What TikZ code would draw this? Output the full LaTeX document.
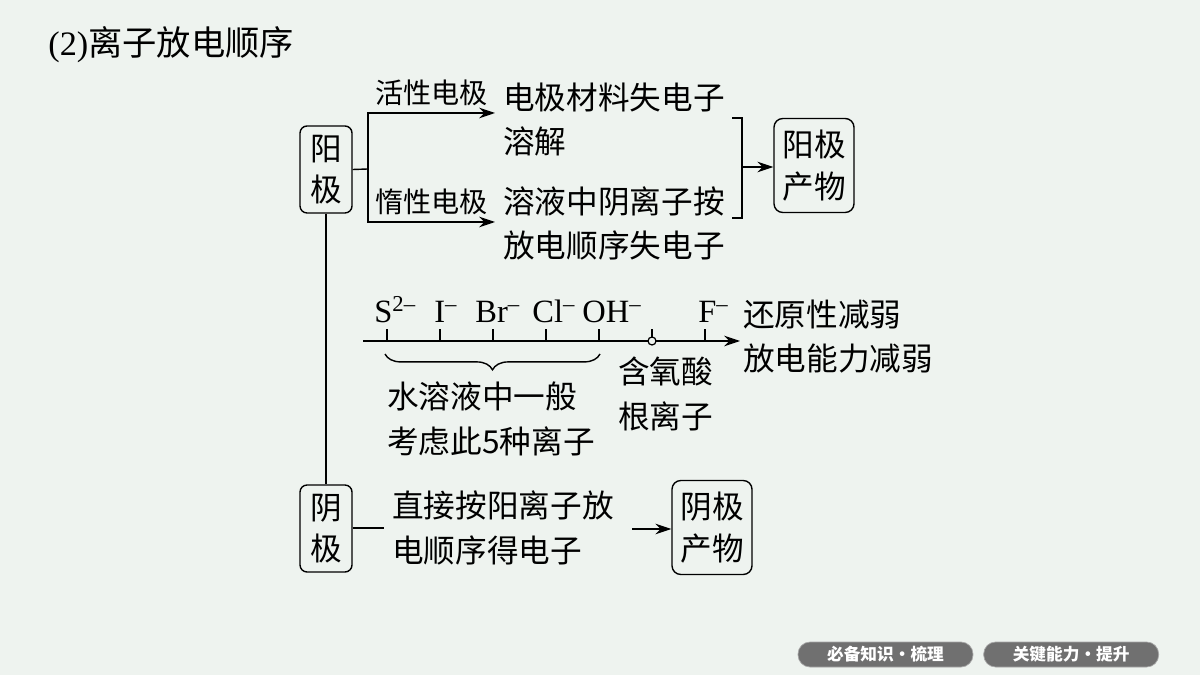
\documentclass[tikz,border=0pt]{standalone}
\usepackage{xcolor}
\usepackage{fontspec}
\setmainfont{Liberation Serif}
\newfontfamily\cjk{Noto Sans CJK SC}
\usepackage{tikz}
\usetikzlibrary{arrows.meta,positioning,decorations.pathreplacing,calc}
\definecolor{slidebg}{HTML}{EEF3EF}
\definecolor{pillgray}{HTML}{707070}
\newcommand{\ioncharge}[1]{\textsuperscript{#1}}
\tikzset{
  polebox/.style={rectangle, draw=black, line width=0.8pt, rounded corners=4pt,
    minimum width=1.04cm, minimum height=1.74cm, align=center,
    font=\cjk\fontsize{18}{23}\selectfont, inner sep=0pt},
  productbox/.style={rectangle, draw=black, line width=0.8pt, rounded corners=5pt,
    minimum width=1.6cm, minimum height=1.88cm, align=center,
    font=\cjk\fontsize{18}{24}\selectfont, inner sep=0pt},
  bodytext/.style={anchor=west, align=left, inner sep=0pt,
    font=\cjk\fontsize{18}{25.5}\selectfont},
  branchlabel/.style={anchor=west, inner sep=0pt, font=\cjk\fontsize{16}{20}\selectfont},
  ionlabel/.style={anchor=base west, inner sep=0pt, font=\fontsize{18.5}{22}\selectfont},
  pill/.style={rectangle, fill=pillgray, draw=black!35, rounded corners=0.24cm,
    minimum width=3.5cm, minimum height=0.5cm, inner sep=0pt, text=white,
    font=\cjk\bfseries\fontsize{9.5}{11}\selectfont},
  flowarrow/.style={-{Stealth[length=9pt, width=6pt]}, draw=black, line width=0.8pt},
  plainline/.style={draw=black, line width=0.8pt},
}

\begin{document}
\begin{tikzpicture}[x=0.02cm, y=-0.02cm]
  \fill[slidebg] (0,0) rectangle (1200,675);
  \useasboundingbox (0,0) rectangle (1200,675);

  % Title
  \node[anchor=west, inner sep=0pt, font=\fontsize{19.5}{22}\selectfont] (title) at (48,45)
    {(2){\cjk 离子放电顺序}};

  % Anode side (top)
  \node[polebox] (anode) at (326,169.5) {阳\\极};
  \coordinate (fork) at (368,169);
  \coordinate (activetip) at (495,113);
  \coordinate (inerttip) at (495,222);
  \node[branchlabel] (activelbl) at (375,93) {活性电极};
  \node[branchlabel] (inertlbl) at (375,202) {惰性电极};
  \node[bodytext] (activetxt) at (503,119.5) {电极材料失电子\\溶解};
  \node[bodytext] (inerttxt) at (503,223.5) {溶液中阴离子按\\放电顺序失电子};
  \node[productbox] (anprod) at (814,165.5) {阳极\\产物};

  % Bracket joining the two cases
  \coordinate (brtop) at (742,118);
  \coordinate (brbot) at (742,218);
  \coordinate (brmid) at (742,167);

  % Discharge order scale
  \coordinate (scalestart) at (363,341);
  \coordinate (scaleend) at (740,341);
  \node[ionlabel] (sion) at (374,323) {S\ioncharge{2–}};
  \node[ionlabel] (iion) at (434,323) {I\ioncharge{–}};
  \node[ionlabel] (brion) at (475,323) {Br\ioncharge{–}};
  \node[ionlabel] (clion) at (532,323) {Cl\ioncharge{–}};
  \node[ionlabel] (ohion) at (582,323) {OH\ioncharge{–}};
  \node[ionlabel] (fion) at (698,323) {F\ioncharge{–}};
  \node[bodytext] (trend) at (743,336.5) {还原性减弱\\放电能力减弱};
  \node[bodytext] (fiveion) at (387,419) {水溶液中一般\\考虑此5种离子};
  \node[bodytext] (oxyacid) at (618,394) {含氧酸\\根离子};

  % Cathode side (bottom)
  \node[polebox] (cathode) at (326,528.5) {阴\\极};
  \coordinate (catend) at (384,528);
  \node[bodytext] (cattxt) at (392,528) {直接按阳离子放\\电顺序得电子};
  \coordinate (catstart) at (632,529);
  \node[productbox] (catprod) at (712,527.5) {阴极\\产物};

  % Footer buttons
  \node[pill] (basics) at (885.5,654.5) {必备知识•梳理};
  \node[pill, right=0.2cm of basics] (skills) {关键能力•提升};

  % Arrows: anode
  \draw[plainline] (anode.east) -- (fork);
  \draw[flowarrow] (fork) |- (activetip);
  \draw[flowarrow] (fork) |- (inerttip);
  \draw[plainline] ($(brtop)+(-10,0)$) -- (brtop) -- (brbot) -- ($(brbot)+(-10,0)$);
  \draw[flowarrow] (brmid) -- (anprod.west |- brmid);

  % Scale with ticks
  \draw[flowarrow] (scalestart) -- (scaleend);
  \foreach \tx in {387,440,493,546,599,652,705}
    \draw[plainline] (\tx,341) -- (\tx,329);
  \node[circle, draw=black, line width=0.7pt, fill=slidebg, inner sep=0pt,
    minimum size=0.16cm] (oxymark) at (652,341) {};
  \draw[plainline, decorate, decoration={brace, mirror, amplitude=9pt}]
    (385,354) -- (600,354);

  % Arrows: cathode
  \draw[plainline] (anode.south) -- (cathode.north);
  \draw[plainline] (cathode.east |- catend) -- (catend);
  \draw[flowarrow] (catstart) -- (catprod.west |- catstart);

\end{tikzpicture}
\end{document}
